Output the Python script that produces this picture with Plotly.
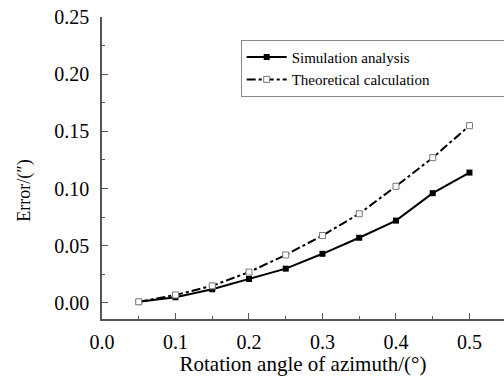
import plotly.graph_objects as go

angles = [0.05, 0.10, 0.15, 0.20, 0.25, 0.30, 0.35, 0.40, 0.45, 0.50]
simulation = [0.001, 0.005, 0.012, 0.021, 0.030, 0.043, 0.057, 0.072, 0.096, 0.114]
theoretical = [0.001, 0.007, 0.015, 0.027, 0.042, 0.059, 0.078, 0.102, 0.127, 0.155]
x_ticks = [0.0, 0.1, 0.2, 0.3, 0.4, 0.5]
y_ticks = [0.00, 0.05, 0.10, 0.15, 0.20, 0.25]

font = "Liberation Serif, Times New Roman, serif"
axis_color = "#555555"

fig = go.Figure()
fig.add_trace(go.Scatter(
    x=angles, y=simulation, mode="lines+markers", name="Simulation analysis",
    line=dict(color="black", width=2, dash="solid"),
    marker=dict(symbol="square", size=6, color="black"),
))
fig.add_trace(go.Scatter(
    x=angles, y=theoretical, mode="lines+markers", name="Theoretical calculation",
    line=dict(color="black", width=2, dash="dashdot"),
    marker=dict(symbol="square", size=6, color="white", line=dict(color="#777777", width=1)),
))

fig.update_layout(
    width=504, height=376,
    margin=dict(l=102, r=0, t=17, b=57, autoexpand=False),
    paper_bgcolor="white", plot_bgcolor="white",
    font=dict(family=font, size=16, color="black"),
    showlegend=True,
    legend=dict(
        x=0.345, y=0.925, xanchor="left", yanchor="top",
        orientation="h", entrywidth=262, entrywidthmode="pixels",
        bordercolor="#888888", borderwidth=1, bgcolor="white",
        font=dict(family=font, size=15, color="black"),
        tracegroupgap=0, itemwidth=40,
    ),
    xaxis=dict(
        range=[0, 0.547], tickvals=x_ticks, ticktext=[f"{v:.1f}" for v in x_ticks],
        showgrid=False, zeroline=False, showline=True, linecolor=axis_color, linewidth=1.5,
        ticks="inside", ticklen=6, tickcolor=axis_color,
        minor=dict(ticks="inside", ticklen=3, dtick=0.05, tick0=0, tickcolor=axis_color),
        title=dict(text="Rotation angle of azimuth/(°)", font=dict(size=21), standoff=3),
        tickfont=dict(size=20), ticklabelstandoff=4,
    ),
    yaxis=dict(
        range=[-0.014, 0.25], tickvals=y_ticks, ticktext=[f"{v:.2f}" for v in y_ticks],
        showgrid=False, zeroline=False, showline=True, linecolor=axis_color, linewidth=1.5,
        ticks="inside", ticklen=6, tickcolor=axis_color,
        minor=dict(ticks="inside", ticklen=3, dtick=0.025, tick0=0, tickcolor=axis_color),
        tickfont=dict(size=20), ticklabelstandoff=7,
    ),
    annotations=[dict(
        text="Error/(″)", xref="paper", yref="paper", x=-0.192, y=0.424,
        xanchor="center", yanchor="middle", textangle=-90, showarrow=False,
        font=dict(family=font, size=18, color="black"),
    )],
)

fig.write_html("out.html")
